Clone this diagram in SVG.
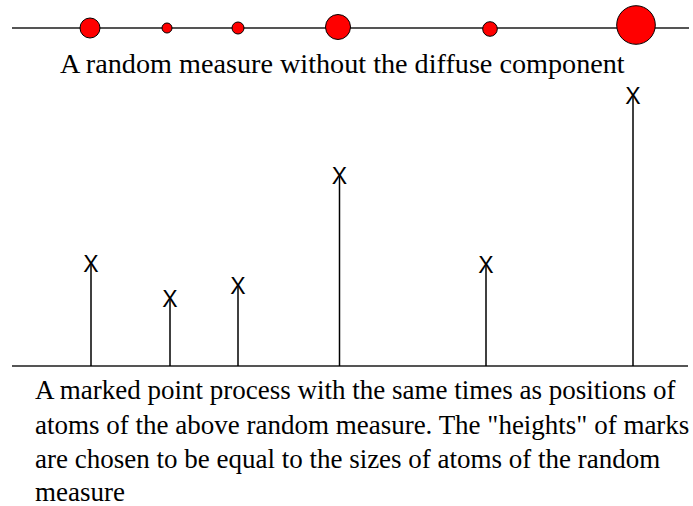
<svg xmlns="http://www.w3.org/2000/svg" width="693" height="506" viewBox="0 0 693 506">
<style>
.axis{stroke:#555;stroke-width:2;fill:none}
.atom{fill:#ff0000;stroke:#000;stroke-width:1}
.stem{stroke:#000;stroke-width:1.5}
</style>
<rect width="693" height="506" fill="#fff"/>
<g id="measure">
<line class="axis" x1="12" y1="28" x2="689" y2="28"/>
<circle class="atom" cx="90" cy="28" r="10"/>
<circle class="atom" cx="167" cy="28" r="5"/>
<circle class="atom" cx="238" cy="28" r="6"/>
<circle class="atom" cx="338" cy="27" r="12.5"/>
<circle class="atom" cx="490" cy="29" r="7.3"/>
<circle class="atom" cx="636" cy="25" r="19.3"/>
</g>
<text font-family="Liberation Serif" x="60" y="73" font-size="28.2">A random measure without the diffuse component</text>
<g id="process">
<line class="axis" x1="12" y1="366" x2="688" y2="366"/>
<line class="stem" x1="91" y1="265" x2="91" y2="366"/>
<line class="stem" x1="170" y1="300" x2="170" y2="366"/>
<line class="stem" x1="238" y1="287" x2="238" y2="366"/>
<line class="stem" x1="339.5" y1="177" x2="339.5" y2="366"/>
<line class="stem" x1="486" y1="266" x2="486" y2="366"/>
<line class="stem" x1="633" y1="97" x2="633" y2="366"/>
<g font-family="Liberation Sans" font-size="23" text-anchor="middle">
<text x="91" y="271.7">X</text>
<text x="170" y="307.2">X</text>
<text x="238" y="294.2">X</text>
<text x="339.5" y="184.2">X</text>
<text x="486" y="273.2">X</text>
<text x="633" y="104.2">X</text>
</g>
</g>
<text font-family="Liberation Serif" font-size="27">
<tspan x="35" y="399">A marked point process with the same times as positions of</tspan>
<tspan x="35" y="434">atoms of the above random measure. The "heights" of marks</tspan>
<tspan x="35" y="468">are chosen to be equal to the sizes of atoms of the random</tspan>
<tspan x="35" y="501">measure</tspan>
</text>
</svg>
